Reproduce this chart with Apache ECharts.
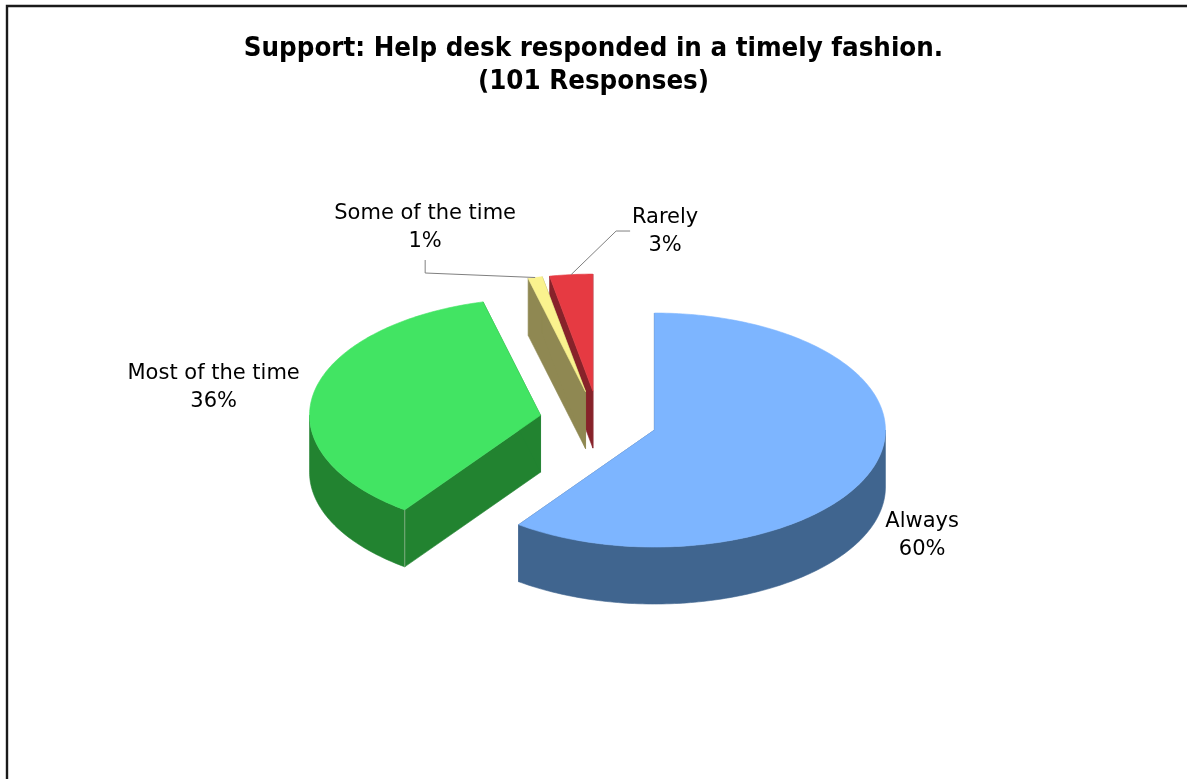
<!DOCTYPE html>
<html>
<head>
<meta charset="utf-8">
<script src="https://cdn.jsdelivr.net/npm/echarts@6/dist/echarts.min.js"></script>
<style>
html,body{margin:0;padding:0;background:#fff;}
#chart{width:1187px;height:779px;}
</style>
</head>
<body>
<div id="chart"></div>
<script>
// ---- data ----
const categories = ['Always', 'Most of the time', 'Some of the time', 'Rarely'];
const percentValues = [60, 36, 1, 3];
const titleLines = ['Support: Help desk responded in a timely fashion.', '(101 Responses)'];

// ---- styles ----
const topColors = ['#7DB5FF', '#42E463', '#FAF28E', '#E63A42'];
const sideColors = ['#40658F', '#228330', '#8F8852', '#87222A'];

// ---- layout (pixels) ----
const PIE = { cx: 598.4, cy: 420.8, rx: 231, ry: 117, depth: 57, explode: 0.255 };
const labelOffsets = [[48, 69], [-100, -6], [-110, -49.5], [94, -42.6]];
const leaderPoints = [null, null, [[0, 45], [0, 32]], [[-49, -1], [-35, -1]]];

const total = percentValues.reduce((a, b) => a + b, 0);
const startAngles = [], endAngles = [];
let acc = 0;
percentValues.forEach(v => {
  startAngles.push(acc / total * 360);
  acc += v;
  endAngles.push(acc / total * 360);
});

function rad(d) { return d * Math.PI / 180; }
function centerOf(i) {
  const m = rad((startAngles[i] + endAngles[i]) / 2);
  return [PIE.cx + PIE.explode * PIE.rx * Math.sin(m), PIE.cy - PIE.explode * PIE.ry * Math.cos(m)];
}
function pt(c, deg, dy) {
  const a = rad(deg);
  return [c[0] + PIE.rx * Math.sin(a), c[1] - PIE.ry * Math.cos(a) + (dy || 0)];
}
function arc(c, a0, a1, dy) {
  const pts = [];
  const n = Math.max(2, Math.ceil(Math.abs(a1 - a0)));
  for (let k = 0; k <= n; k++) pts.push(pt(c, a0 + (a1 - a0) * k / n, dy));
  return pts;
}
// painter order: back slices first
const order = percentValues.map((v, i) => i).sort((a, b) => centerOf(a)[1] - centerOf(b)[1]);
const rank = [];
order.forEach((idx, r) => { rank[idx] = r; });

const chart = echarts.init(document.getElementById('chart'), null, { renderer: 'canvas' });

chart.setOption({
  backgroundColor: '#ffffff',
  animation: false,
  title: {
    text: titleLines.join('\n'),
    left: 'center',
    top: 27,
    textStyle: {
      fontFamily: '"DejaVu Sans Condensed", "DejaVu Sans", sans-serif',
      fontWeight: 'bold',
      fontSize: 27.4,
      lineHeight: 33,
      color: '#000'
    }
  },
  graphic: [{
    type: 'rect',
    shape: { x: 7, y: 6, width: 1300, height: 900 },
    style: { fill: 'none', stroke: '#1a1a1a', lineWidth: 2.4 },
    silent: true
  }],
  series: [{
    type: 'custom',
    coordinateSystem: 'none',
    data: percentValues.map((v, i) => ({ name: categories[i], value: v })),
    renderItem: function (params, api) {
      const i = params.dataIndex;
      const a0 = startAngles[i], a1 = endAngles[i];
      const c = centerOf(i);
      const d = PIE.depth;
      const base = rank[i] * 10;
      const children = [];
      const sideStyle = { fill: sideColors[i], stroke: sideColors[i], lineWidth: 0.6 };
      [a0, a1].forEach(a => {
        const p = pt(c, a);
        children.push({
          type: 'polygon', z2: base,
          shape: { points: [c, p, [p[0], p[1] + d], [c[0], c[1] + d]] },
          style: sideStyle
        });
      });
      const s = Math.max(a0, 90), e = Math.min(a1, 270);
      if (e > s) {
        children.push({
          type: 'polygon', z2: base + 1,
          shape: { points: arc(c, s, e, 0).concat(arc(c, e, s, d)) },
          style: sideStyle
        });
      }
      if (a0 > 180 && a0 < 270) {
        const p = pt(c, a0);
        children.push({
          type: 'line', z2: base + 2,
          shape: { x1: p[0], y1: p[1], x2: p[0], y2: p[1] + d },
          style: { stroke: '#7FAE80', lineWidth: 1 }
        });
      }
      children.push({
        type: 'polygon', z2: base + 3,
        shape: { points: [c].concat(arc(c, a0, a1, 0)) },
        style: { fill: topColors[i], stroke: topColors[i], lineWidth: 0.6 }
      });
      const E = pt(c, (a0 + a1) / 2);
      const L = [E[0] + labelOffsets[i][0], E[1] + labelOffsets[i][1]];
      if (leaderPoints[i]) {
        children.push({
          type: 'polyline', z2: 99,
          shape: { points: [E].concat(leaderPoints[i].map(q => [L[0] + q[0], L[1] + q[1]])) },
          style: { stroke: '#808080', lineWidth: 1, fill: null }
        });
      }
      children.push({
        type: 'text', z2: 100,
        style: {
          text: categories[i] + '\n' + api.value(0) + '%',
          x: L[0], y: L[1],
          align: 'center', verticalAlign: 'middle',
          fontSize: 21, fontFamily: '"DejaVu Sans", sans-serif',
          lineHeight: 28, fill: '#000'
        }
      });
      return { type: 'group', children: children };
    }
  }]
});
</script>
</body>
</html>
